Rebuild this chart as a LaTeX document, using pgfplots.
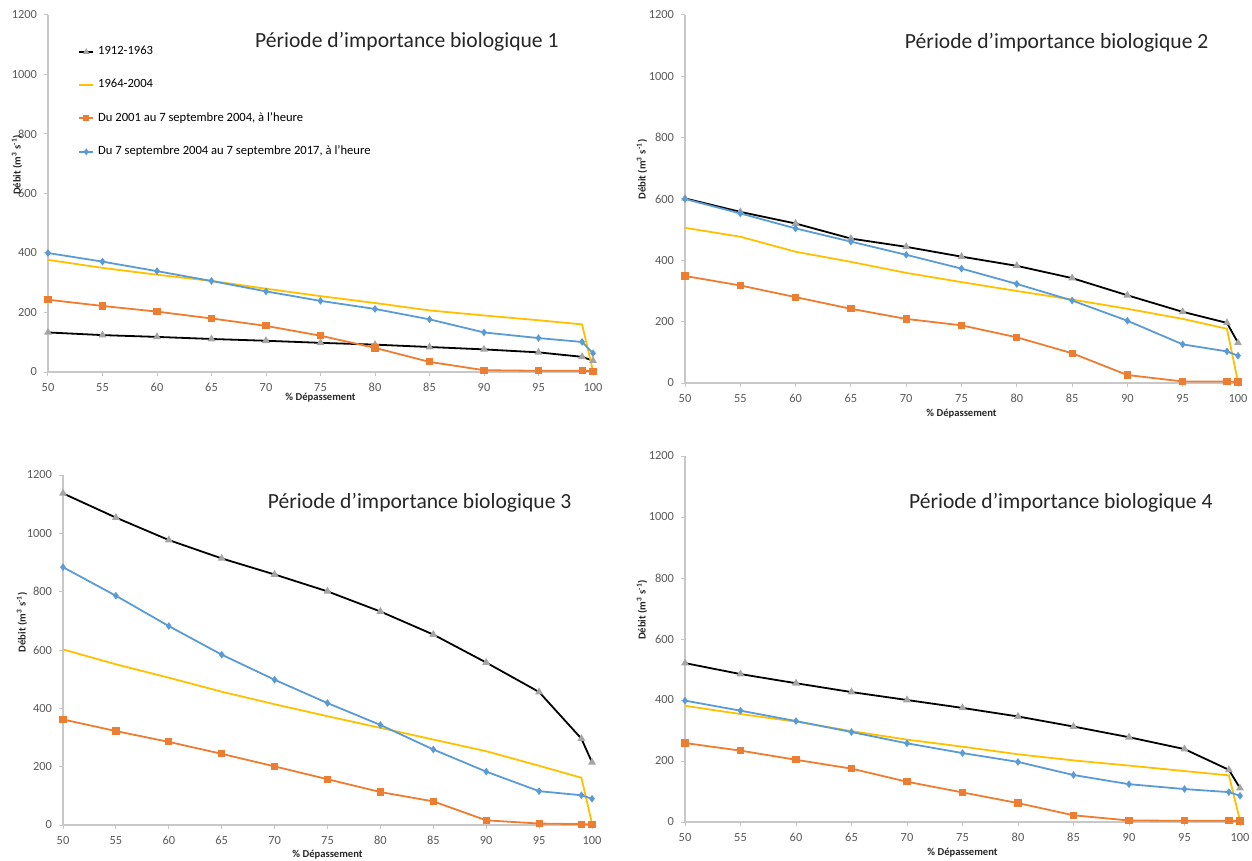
\documentclass[border=0pt]{standalone}
\usepackage{fontspec}
\setmainfont{Carlito}
\usepackage{pgfplots}
\pgfplotsset{compat=1.18}
\definecolor{cgray}{RGB}{165,165,165}
\definecolor{cyellow}{RGB}{255,192,0}
\definecolor{corange}{RGB}{237,125,49}
\definecolor{cblue}{RGB}{91,155,213}
\definecolor{axgray}{RGB}{200,200,200}
\definecolor{txtgray}{RGB}{89,89,89}

\tikzset{ttl/.style={anchor=west, font=\fontsize{10.8}{13}\selectfont, text=black!85}}
\pgfplotsset{
  panel/.style={
    scale only axis,
    xmin=50, xmax=100, ymin=0, ymax=1200,
    axis lines=left, axis line style={-, draw=axgray, line width=0.6pt},
    xtick={50,55,...,100}, ytick={0,200,...,1200},
    major tick length=2pt, tick align=outside,
    tick style={draw=axgray, line width=0.5pt},
    /pgf/number format/assume math mode=true,
    /pgf/number format/1000 sep={},
    tick label style={font=\fontsize{6.2}{7}\selectfont, text=txtgray},
    xlabel={\% Dépassement},
    ylabel={Débit (m\textsuperscript{3} s\textsuperscript{-1})},
    label style={font=\bfseries\fontsize{5.3}{6}\selectfont, text=black!85},
    clip=false,
  },
  xlx/.style={xlabel style={at={([yshift=-#1]axis description cs:0.5,0)}, anchor=center}},
  ylx/.style={ylabel style={at={([xshift=-#1]axis description cs:0,0.58)}, anchor=center}},
  s1/.style={black, line width=0.9pt, mark=triangle*, mark size=1.4pt,
    mark options={draw=cgray, fill=cgray}},
  s2/.style={cyellow, line width=0.9pt, no markers},
  s3/.style={corange, line width=0.9pt, mark=square*, mark size=1.35pt,
    mark options={fill=corange}},
  s4/.style={cblue, line width=0.9pt, mark=diamond*, mark size=1.2pt,
    mark options={fill=cblue}},
}

\begin{document}
\begin{tikzpicture}
\useasboundingbox (0,0) rectangle (626pt,-430.5pt);

% Panel 1
\begin{axis}[panel, ylx=15.5pt, xlx=12.8pt,
  at={(24pt,-186pt)}, anchor=south west,
  width=272.5pt, height=178.5pt,
  legend style={at={(rel axis cs:0.055,0.925)}, anchor=north west, draw=none,
    fill=none, font=\fontsize{6.3}{7.5}\selectfont, row sep=6.8pt,
    inner sep=0pt, cells={anchor=west}},
  legend image code/.code={\draw[mark repeat=2, mark phase=2, #1, mark size=1pt]
    plot coordinates {(0pt,0pt) (3.5pt,0pt) (7pt,0pt)};}]
\addplot[s1] coordinates {(50,133) (55,124) (60,118) (65,111) (70,105) (75,98) (80,92) (85,84) (90,76) (95,66) (99,51) (100,38)};
\addplot[s2] coordinates {(50,377) (55,350) (60,327) (65,306) (70,280) (75,255) (80,232) (85,207) (90,190) (95,174) (99,160) (100,3)};
\addplot[s3] coordinates {(50,243) (55,222) (60,203) (65,180) (70,155) (75,122) (80,81) (85,34) (90,6) (95,4) (99,4) (100,3)};
\addplot[s4] coordinates {(50,400) (55,371) (60,339) (65,306) (70,271) (75,239) (80,212) (85,177) (90,133) (95,114) (99,101) (100,63)};
\legend{1912-1963, 1964-2004, {Du 2001 au 7 septembre 2004, à l’heure}, {Du 7 septembre 2004 au 7 septembre 2017, à l’heure}}
\node[ttl] at (rel axis cs:0.367,0.924) {Période d’importance biologique 1};
\end{axis}

% Panel 2
\begin{axis}[panel, ylx=21.5pt, xlx=15.5pt, at={(342.5pt,-191.5pt)}, anchor=south west,
  width=276.5pt, height=184pt]
\addplot[s1] coordinates {(50,602) (55,558) (60,520) (65,471) (70,444) (75,412) (80,382) (85,342) (90,286) (95,232) (99,196) (100,131)};
\addplot[s2] coordinates {(50,506) (55,477) (60,428) (65,395) (70,359) (75,329) (80,300) (85,272) (90,242) (95,209) (99,177) (100,3)};
\addplot[s3] coordinates {(50,349) (55,318) (60,280) (65,242) (70,209) (75,188) (80,149) (85,97) (90,26) (95,5) (99,5) (100,3)};
\addplot[s4] coordinates {(50,600) (55,553) (60,504) (65,461) (70,418) (75,373) (80,323) (85,269) (90,203) (95,126) (99,103) (100,89)};
\node[ttl] at (rel axis cs:0.385,0.924) {Période d’importance biologique 2};
\end{axis}

% Panel 3
\begin{axis}[panel, ylx=20.5pt, xlx=15pt, at={(31.5pt,-412.5pt)}, anchor=south west,
  width=264.5pt, height=175pt]
\addplot[s1] coordinates {(50,1137) (55,1054) (60,977) (65,914) (70,859) (75,801) (80,732) (85,653) (90,557) (95,456) (99,296) (100,215)};
\addplot[s2] coordinates {(50,602) (55,551) (60,505) (65,457) (70,414) (75,373) (80,333) (85,293) (90,253) (95,203) (99,162) (100,5)};
\addplot[s3] coordinates {(50,362) (55,322) (60,285) (65,244) (70,201) (75,157) (80,113) (85,81) (90,16) (95,5) (99,3) (100,2)};
\addplot[s4] coordinates {(50,884) (55,786) (60,682) (65,584) (70,498) (75,418) (80,343) (85,259) (90,183) (95,116) (99,102) (100,90)};
\node[ttl] at (rel axis cs:0.374,0.92) {Période d’importance biologique 3};
\end{axis}

% Panel 4
\begin{axis}[panel, ylx=21.5pt, xlx=15.5pt, at={(342.5pt,-411pt)}, anchor=south west,
  width=277.5pt, height=183pt]
\addplot[s1] coordinates {(50,521) (55,485) (60,455) (65,426) (70,400) (75,374) (80,346) (85,313) (90,278) (95,239) (99,171) (100,111)};
\addplot[s2] coordinates {(50,381) (55,354) (60,329) (65,298) (70,270) (75,247) (80,222) (85,202) (90,185) (95,167) (99,153) (100,5)};
\addplot[s3] coordinates {(50,259) (55,234) (60,204) (65,175) (70,132) (75,97) (80,62) (85,22) (90,5) (95,4) (99,4) (100,3)};
\addplot[s4] coordinates {(50,398) (55,365) (60,331) (65,295) (70,258) (75,226) (80,197) (85,154) (90,124) (95,108) (99,98) (100,86)};
\node[ttl] at (rel axis cs:0.391,0.872) {Période d’importance biologique 4};
\end{axis}
\end{tikzpicture}
\end{document}
